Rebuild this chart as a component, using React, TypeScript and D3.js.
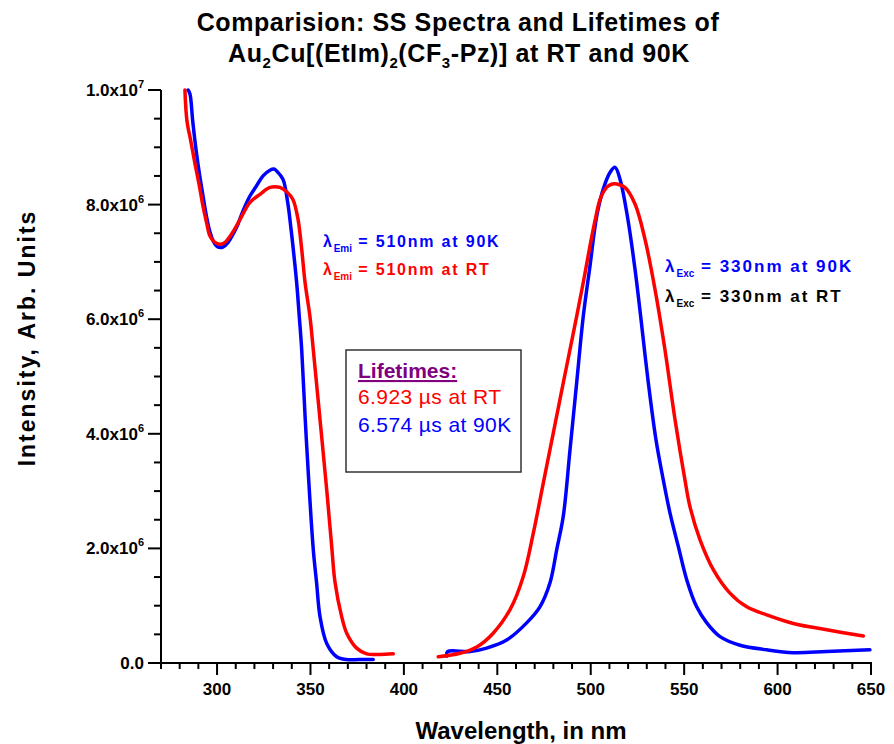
import React from "react";
import * as d3 from "d3";

// Excitation spectra (nm, intensity in 1e6 units)
const exc90K_nm = [284.5, 285.5, 287.0, 288.7, 290.5, 292.5, 294.3, 296.2, 298.0, 300.0, 303.2, 305.9, 308.0, 310.7, 314.0, 317.6, 321.0, 324.6, 328.3, 330.5, 332.1, 335.3, 337.8, 339.6, 340.8, 342.6, 344.0, 345.3, 347.1, 348.8, 351.5, 353.3, 355.1, 358.7, 364.0, 369.4, 376.0, 383.6];
const exc90K_I = [10.0, 9.93, 9.45, 8.97, 8.55, 8.15, 7.80, 7.52, 7.36, 7.27, 7.26, 7.34, 7.45, 7.62, 7.90, 8.15, 8.32, 8.50, 8.60, 8.62, 8.58, 8.44, 8.04, 7.57, 7.22, 6.64, 6.05, 5.47, 4.31, 3.33, 1.98, 1.39, 0.81, 0.34, 0.11, 0.06, 0.06, 0.06];

const excRT_nm = [282.8, 283.9, 286.0, 288.2, 290.4, 292.5, 294.3, 296.2, 298.5, 301.6, 303.8, 305.9, 309.0, 312.3, 317.6, 323.0, 328.3, 333.7, 337.4, 340.6, 343.3, 345.3, 347.1, 349.7, 351.5, 355.1, 358.7, 361.4, 363.1, 366.7, 369.4, 374.7, 380.1, 387.0, 394.3];
const excRT_I = [10.0, 9.46, 9.10, 8.71, 8.35, 7.97, 7.70, 7.45, 7.35, 7.31, 7.33, 7.40, 7.55, 7.74, 8.04, 8.18, 8.30, 8.30, 8.22, 8.09, 7.75, 7.22, 6.64, 6.05, 5.47, 4.25, 3.02, 2.02, 1.42, 0.81, 0.52, 0.26, 0.16, 0.15, 0.16];

// Emission spectra
const emi90K_nm = [422.9, 423.4, 435.4, 444.3, 455.0, 465.7, 472.8, 478.2, 481.8, 485.3, 488.9, 492.5, 496.0, 499.6, 503.2, 506.7, 510.3, 513.0, 515.7, 519.9, 523.7, 526.9, 530.6, 534.9, 538.8, 542.4, 546.9, 551.4, 556.7, 562.1, 569.2, 579.9, 594.2, 608.4, 626.3, 649.4];
const emi90K_I = [0.12, 0.20, 0.20, 0.26, 0.40, 0.70, 0.98, 1.40, 1.98, 2.56, 3.72, 4.90, 6.05, 6.93, 7.80, 8.27, 8.56, 8.65, 8.44, 7.74, 6.87, 6.00, 4.95, 3.90, 3.20, 2.62, 2.03, 1.45, 0.98, 0.70, 0.46, 0.31, 0.23, 0.18, 0.20, 0.23];

const emiRT_nm = [418.4, 430.0, 439.0, 447.8, 456.8, 463.9, 469.3, 474.6, 480.0, 485.3, 490.7, 496.0, 499.6, 502.5, 505.0, 508.5, 511.5, 513.9, 518.3, 523.7, 529.0, 534.4, 539.7, 545.1, 550.4, 553.1, 558.5, 565.6, 574.5, 583.5, 594.2, 608.4, 626.3, 645.9];
const emiRT_I = [0.11, 0.17, 0.28, 0.52, 0.93, 1.51, 2.27, 3.14, 4.02, 4.89, 5.76, 6.64, 7.28, 7.75, 8.09, 8.30, 8.36, 8.36, 8.30, 8.01, 7.40, 6.52, 5.47, 4.25, 3.20, 2.73, 2.15, 1.63, 1.22, 0.98, 0.84, 0.69, 0.58, 0.47];

// Axis ticks
const xMajorTicks = [300, 350, 400, 450, 500, 550, 600, 650];
const yMajorTicks = [0, 2, 4, 6, 8, 10];
const yTickMantissa = ["0.0", "2.0x10", "4.0x10", "6.0x10", "8.0x10", "1.0x10"];
const yTickExp = ["", "6", "6", "6", "6", "7"];

const FONT = "Arial, 'Liberation Sans', sans-serif";

export default function App() {
  const x = d3.scaleLinear().domain([270, 650]).range([161, 871]);
  const y = d3.scaleLinear().domain([0, 10]).range([663, 90]);
  const line = d3
    .line<[number, number]>()
    .x((d) => x(d[0]))
    .y((d) => y(d[1]))
    .curve(d3.curveCatmullRom.alpha(0.5));
  const zip = (a: number[], b: number[]) => a.map((v, i) => [v, b[i]] as [number, number]);

  const xMinor = d3.range(270, 651, 10).filter((v) => !xMajorTicks.includes(v));
  const yMinor = d3.range(0, 10.01, 0.5).filter((v) => !yMajorTicks.some((t) => Math.abs(t - v) < 1e-6));

  const series = [
    { d: zip(exc90K_nm, exc90K_I), c: "#0000ff" },
    { d: zip(emi90K_nm, emi90K_I), c: "#0000ff" },
    { d: zip(excRT_nm, excRT_I), c: "#ff0000" },
    { d: zip(emiRT_nm, emiRT_I), c: "#ff0000" },
  ];

  return (
    <svg width={894} height={744} style={{ position: "absolute", left: 0, top: 0, background: "#fff" }} fontFamily={FONT}>
      <rect x={0} y={0} width={894} height={744} fill="#fff" />
      {/* Title */}
      <text x={458} y={31} textAnchor="middle" fontSize={25} fontWeight="bold" letterSpacing={0.6} fill="#000">
        Comparision: SS Spectra and Lifetimes of
      </text>
      <text x={459} y={62} textAnchor="middle" fontSize={25} fontWeight="bold" letterSpacing={0.6} fill="#000">
        Au<tspan dy={6} fontSize={15}>2</tspan>
        <tspan dy={-6}>Cu[(EtIm)</tspan>
        <tspan dy={6} fontSize={15}>2</tspan>
        <tspan dy={-6}>(CF</tspan>
        <tspan dy={6} fontSize={15}>3</tspan>
        <tspan dy={-6}>-Pz)] at RT and 90K</tspan>
      </text>

      {/* Curves */}
      {series.map((s, i) => (
        <path key={i} d={line(s.d) || ""} fill="none" stroke={s.c} strokeWidth={3.5} strokeLinejoin="round" strokeLinecap="round" />
      ))}

      {/* Axes */}
      <line x1={161} x2={161} y1={90} y2={664} stroke="#000" strokeWidth={2} />
      <line x1={160} x2={872} y1={663} y2={663} stroke="#000" strokeWidth={2} />
      {yMajorTicks.map((t) => (
        <line key={"ym" + t} x1={148} x2={161} y1={y(t)} y2={y(t)} stroke="#000" strokeWidth={2} />
      ))}
      {yMinor.map((t) => (
        <line key={"yn" + t} x1={154} x2={161} y1={y(t)} y2={y(t)} stroke="#000" strokeWidth={2} />
      ))}
      {xMajorTicks.map((t) => (
        <line key={"xm" + t} x1={x(t)} x2={x(t)} y1={663} y2={675} stroke="#000" strokeWidth={2} />
      ))}
      {xMinor.map((t) => (
        <line key={"xn" + t} x1={x(t)} x2={x(t)} y1={663} y2={669} stroke="#000" strokeWidth={2} />
      ))}
      {yMajorTicks.map((t, i) => (
        <text key={"yl" + t} x={144} y={y(t) + 6} textAnchor="end" fontSize={17} fontWeight="bold" fill="#000">
          {yTickMantissa[i]}
          {yTickExp[i] && (
            <tspan dy={-8} fontSize={11}>
              {yTickExp[i]}
            </tspan>
          )}
        </text>
      ))}
      {xMajorTicks.map((t) => (
        <text key={"xl" + t} x={x(t)} y={695} textAnchor="middle" fontSize={17} fontWeight="bold" fill="#000">
          {t}
        </text>
      ))}

      {/* Axis titles */}
      <text x={521} y={739} textAnchor="middle" fontSize={24} fontWeight="bold" fill="#000">
        Wavelength, in nm
      </text>
      <text transform="translate(35,338) rotate(-90)" textAnchor="middle" fontSize={23} fontWeight="bold" letterSpacing={2} fill="#000">
        Intensity, Arb. Units
      </text>

      {/* Annotations */}
      <text x={323} y={247} fontSize={16} fontWeight="bold" fill="#0000ff" letterSpacing={1.8}>
        λ<tspan dy={5} fontSize={10} letterSpacing={0}>Emi</tspan>
        <tspan dy={-5}> = 510nm at 90K</tspan>
      </text>
      <text x={323} y={275} fontSize={16} fontWeight="bold" fill="#ff0000" letterSpacing={1.8}>
        λ<tspan dy={5} fontSize={10} letterSpacing={0}>Emi</tspan>
        <tspan dy={-5}> = 510nm at RT</tspan>
      </text>
      <text x={665} y={272} fontSize={17} fontWeight="bold" fill="#0000ff" letterSpacing={2}>
        λ<tspan dy={5} fontSize={10} letterSpacing={0}>Exc</tspan>
        <tspan dy={-5}> = 330nm at 90K</tspan>
      </text>
      <text x={665} y={302} fontSize={17} fontWeight="bold" fill="#000" letterSpacing={2}>
        λ<tspan dy={5} fontSize={10} letterSpacing={0}>Exc</tspan>
        <tspan dy={-5}> = 330nm at RT</tspan>
      </text>

      {/* Lifetimes box */}
      <rect x={346} y={350} width={175} height={122} fill="#fff" stroke="#333" strokeWidth={1.5} />
      <text x={358} y={378} fontSize={21} fontWeight="bold" fill="#800080" textDecoration="underline">
        Lifetimes:
      </text>
      <text x={358} y={404} fontSize={21} fill="#ff0000" letterSpacing={0.4}>
        6.923 µs at RT
      </text>
      <text x={358} y={432} fontSize={21} fill="#0000ff" letterSpacing={0.4}>
        6.574 µs at 90K
      </text>
    </svg>
  );
}
